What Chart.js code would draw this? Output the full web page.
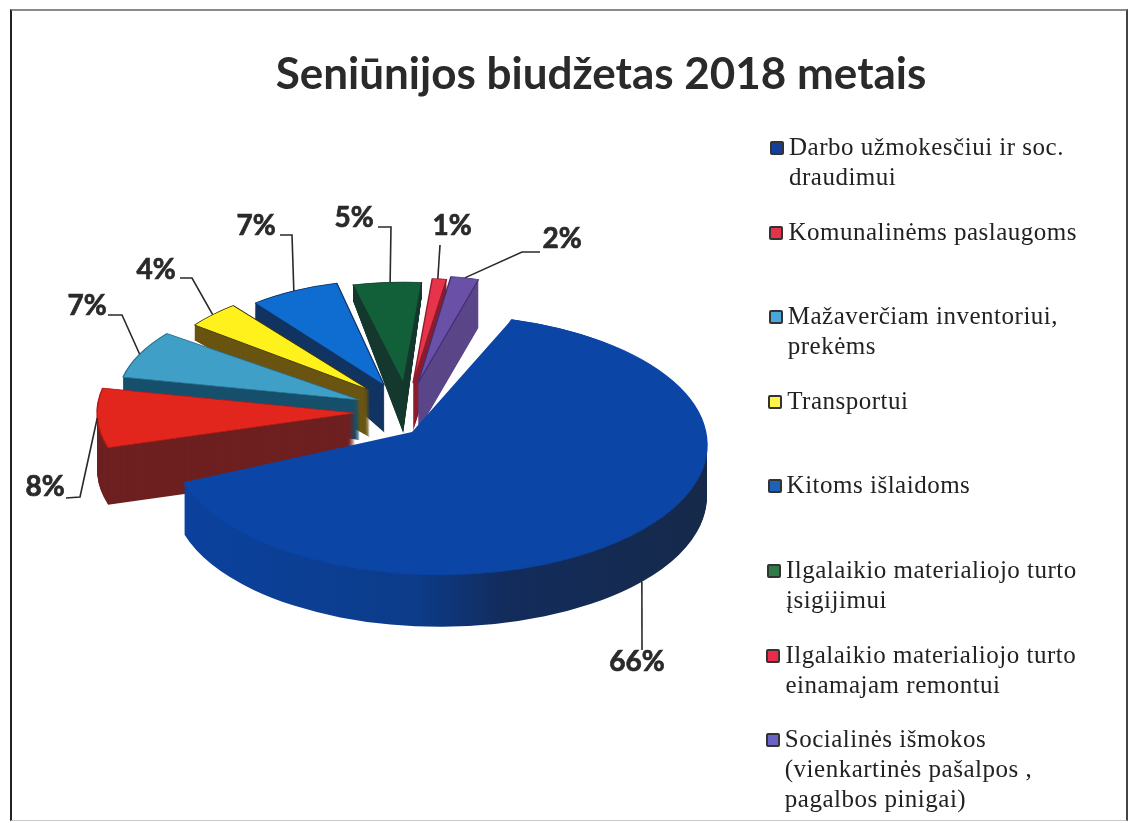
<!DOCTYPE html>
<html lang="lt">
<head>
<meta charset="utf-8">
<style>
html,body{margin:0;padding:0;background:#fff;width:1132px;height:823px;overflow:hidden}
#wrap{position:relative;width:1132px;height:823px}
#frame{position:absolute;left:10px;top:9px;width:1118px;height:812px;box-sizing:border-box;border-left:2px solid #222;border-top:2px solid #8a8a8a;border-right:2px solid #444;border-bottom:1px solid #c8c8c8}
canvas{position:absolute;left:0;top:0}
.li{position:absolute;font:25px/30px "Liberation Serif",serif;color:#222;letter-spacing:.5px;white-space:pre}
.sw{position:absolute;width:10px;height:10px;border:2px solid #333;border-radius:2px}
</style>
<script src="https://cdn.jsdelivr.net/npm/chart.js@4"></script>
</head>
<body>
<div id="wrap"><div id="frame"></div><canvas id="c" width="1132" height="823"></canvas><div id="legend"></div></div>
<script>
const TITLE = 'Seniūnijos biudžetas 2018 metais';
const categories = [
  ['Darbo užmokesčiui ir soc.','draudimui'],
  ['Komunalinėms paslaugoms'],
  ['Mažaverčiam inventoriui,','prekėms'],
  ['Transportui'],
  ['Kitoms išlaidoms'],
  ['Ilgalaikio materialiojo turto','įsigijimui'],
  ['Ilgalaikio materialiojo turto','einamajam remontui'],
  ['Socialinės išmokos','(vienkartinės pašalpos ,','pagalbos pinigai)']
];
const values = [66, 8, 7, 4, 7, 5, 1, 2];
const faceColors = ['#0b45a6','#e3261d','#3f9fc6','#fff21c','#0f6dd2','#12603a','#e8344a','#6a50a6'];
const wallColors = ['#0b3f98','#6e2020','#17506c','#6a5512','#123462','#16392f','#8e1c2c','#5a4688'];
const edgeColors = ['#0b45a6','#b51c16','#2a6f90','#3a3210','#123462','#16392f','#8e1c2c','#3e2f70'];
const legendSwatches = ['#153f9a','#e5344a','#4aa6dc','#fff24a','#1c62b8','#2f7a46','#ee2a4c','#6a62c4'];

/* view of the tilted pie */
const pieCenter = [407, 407];
const baseRadius = 250;
const startRotation = 15.6;
const radiusX = [267, 258, 242, 220, 208, 220, 230, 226];
const radiusY = [130, 120, 110, 108, 105, 101, 105, 108];
const explodeX = [46, 52, 52, 52, 52, 52, 52, 52];
const explodeY = [54, 24, 24, 24, 24, 24, 24, 24];
const sagY = [0, 5, 3, 0, 0, 0, 0, 0];
const depths     = [52, 57, 40, 47, 47, 50, 48, 48];
const wallOuter  = [52, 57, 10,  6,  9, 15, 48, 48];
const drawOrder = [5, 4, 6, 7, 3, 2, 1, 0];
const bigInnerApex = [412, 432];

/* value labels */
const labelTexts = ['66%','8%','7%','4%','7%','5%','1%','2%'];
const labelPos = [[637,662],[45,487],[87,306],[156,270],[256,226],[354,218],[452,226],[562,239]];
const labelElbow = [[642,650],[66,498],[108,315],[180,278],[280,235],[378,227],[440,245],[540,252]];
const labelKnee = [null,[80,497],[122,315],[192,278],[292,235],[391,227],null,[522,252]];
const leaderAt = [0.485, 0.5, 0.5, 0.5, 0.5, 0.544, 0.39, 0.5];

const place = (arc, i) => {
  const m = (arc.startAngle + arc.endAngle) / 2;
  return [pieCenter[0] + explodeX[i] * Math.cos(m), pieCenter[1] + sagY[i] + explodeY[i] * Math.sin(m)];
};
const drawAs = (ctx, arc, colour, edge, width) => {
  const saved = arc.options;
  arc.options = Object.assign({}, saved, {backgroundColor: colour, borderColor: edge, borderWidth: width});
  arc.draw(ctx);
  arc.options = saved;
};
const reachOf = (arc, i) => {
  const a = arc.startAngle, b = arc.endAngle;
  const crossesTop = Math.cos(a) < 0 && Math.cos(b) > 0 && Math.sin(a) < 0 && Math.sin(b) < 0;
  const s = crossesTop ? 1 : Math.max(-Math.sin(a), -Math.sin(b), 0.05);
  return radiusY[i] * s;
};

const tiltedPie = {
  id: 'tiltedPie',
  beforeDatasetsDraw(chart) {
    const ctx = chart.ctx;
    const arcs = chart.getDatasetMeta(0).data;
    drawOrder.forEach(i => {
      const arc = arcs[i];
      const [ax, ay] = place(arc, i);
      const sx = radiusX[i] / baseRadius, sy = radiusY[i] / baseRadius;
      let wall = wallColors[i];
      if (i === 0) {
        wall = ctx.createLinearGradient(arc.x - baseRadius, 0, arc.x + baseRadius, 0);
        wall.addColorStop(0, '#0b429f');
        wall.addColorStop(0.45, '#0c3c8a');
        wall.addColorStop(0.62, '#122c5c');
        wall.addColorStop(1, '#16294a');
      }
      const D = depths[i], reach = reachOf(arc, i);
      for (let d = D; d >= 1; d--) {
        const f = 1 + (d - wallOuter[i] * d / D) / reach;
        ctx.save();
        ctx.translate(ax, ay + d);
        ctx.scale(sx, sy * f);
        ctx.translate(-arc.x, -arc.y);
        drawAs(ctx, arc, wall, wall, 0);
        ctx.restore();
      }
      ctx.save();
      ctx.translate(ax, ay);
      ctx.scale(sx, sy);
      ctx.translate(-arc.x, -arc.y);
      drawAs(ctx, arc, faceColors[i], edgeColors[i], 1.5);
      ctx.restore();
      if (i === 0) {
        /* the near apex sits off the ellipse centre in the original's perspective */
        const p = a => [ax + radiusX[0] * Math.cos(a), ay + radiusY[0] * Math.sin(a)];
        const [a0, a1] = [arc.startAngle, arc.endAngle];
        const v0 = p(a0), v1 = p(a1);
        const vx0 = v0[0] - bigInnerApex[0], vy0 = v0[1] - bigInnerApex[1];
        const vx1 = v1[0] - bigInnerApex[0], vy1 = v1[1] - bigInnerApex[1];
        const c0 = Math.cos(a0), s0 = Math.sin(a0), c1 = Math.cos(a1), s1 = Math.sin(a1);
        const det = c0 * s1 - s0 * c1;
        const m11 = (vx0 * s1 - s0 * vx1) / det / baseRadius, m12 = (vy0 * s1 - s0 * vy1) / det / baseRadius;
        const m21 = (c0 * vx1 - vx0 * c1) / det / baseRadius, m22 = (c0 * vy1 - vy0 * c1) / det / baseRadius;
        ctx.save();
        ctx.beginPath();
        ctx.ellipse(ax, ay, radiusX[0], radiusY[0], 0, 0, Math.PI * 2);
        ctx.clip();
        ctx.transform(m11, m12, m21, m22, bigInnerApex[0], bigInnerApex[1]);
        ctx.translate(-arc.x, -arc.y);
        drawAs(ctx, arc, faceColors[0], faceColors[0], 0);
        ctx.restore();
      }
    });
    return false;
  },
  afterDraw(chart) {
    const ctx = chart.ctx;
    const arcs = chart.getDatasetMeta(0).data;
    ctx.save();
    ctx.strokeStyle = '#2a2a2a';
    ctx.lineWidth = 1.6;
    arcs.forEach((arc, i) => {
      const [ax, ay] = place(arc, i);
      const m = arc.startAngle + (arc.endAngle - arc.startAngle) * leaderAt[i];
      const tip = [ax + radiusX[i] * Math.cos(m), ay + radiusY[i] * Math.sin(m) + (i === 0 ? depths[0] : 0)];
      ctx.beginPath();
      ctx.moveTo(labelElbow[i][0], labelElbow[i][1]);
      if (labelKnee[i]) ctx.lineTo(labelKnee[i][0], labelKnee[i][1]);
      ctx.lineTo(tip[0], tip[1]);
      ctx.stroke();
    });
    ctx.fillStyle = '#2a2a2a';
    ctx.font = '700 28px Lato, "Open Sans", sans-serif';
    ctx.textAlign = 'center';
    ctx.textBaseline = 'middle';
    ctx.lineWidth = 0.7;
    labelTexts.forEach((t, i) => {
      ctx.fillText(t, labelPos[i][0], labelPos[i][1]);
      ctx.strokeText(t, labelPos[i][0], labelPos[i][1]);
    });
    ctx.restore();
  }
};

const ctxMain = document.getElementById('c').getContext('2d');
new Chart(ctxMain, {
  type: 'pie',
  data: {
    labels: categories.map(c => c.join(' ')),
    datasets: [{data: values, backgroundColor: faceColors, borderColor: edgeColors, borderWidth: 1.5}]
  },
  options: {
    responsive: false,
    animation: false,
    events: [],
    rotation: startRotation,
    radius: baseRadius,
    layout: {padding: {left: 70, top: 48}},
    plugins: {
      legend: {display: false},
      tooltip: {enabled: false},
      title: {
        display: true,
        text: TITLE,
        color: '#2a2a2a',
        font: {family: 'Lato, "Open Sans", sans-serif', weight: '700', size: 44},
        padding: {top: 0, bottom: 0}
      }
    }
  },
  plugins: [tiltedPie]
});

/* legend: one row every 84.6 px */
const legend = document.getElementById('legend');
categories.forEach((lines, i) => {
  const y = 147 + i * 84.6;
  const shift = i * 0.6;
  const sw = document.createElement('div');
  sw.className = 'sw';
  sw.style.left = (770 - shift) + 'px';
  sw.style.top = (y - 6) + 'px';
  sw.style.background = legendSwatches[i];
  legend.appendChild(sw);
  lines.forEach((ln, k) => {
    const d = document.createElement('div');
    d.className = 'li';
    d.textContent = ln;
    d.style.left = (789 - shift) + 'px';
    d.style.top = (y - 15 + k * 30) + 'px';
    legend.appendChild(d);
  });
});
</script>
</body>
</html>
